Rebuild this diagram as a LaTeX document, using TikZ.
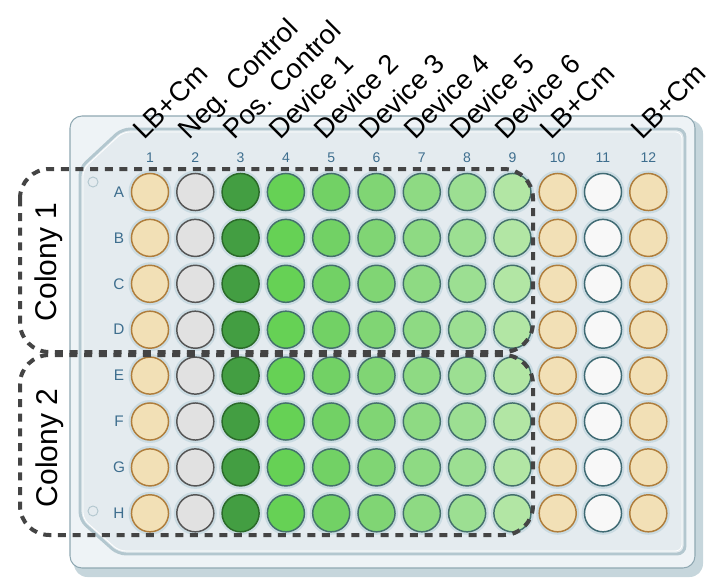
\documentclass[tikz,border=0pt]{standalone}
\usepackage{fontspec}
\setmainfont{Liberation Sans}
\usetikzlibrary{calc}
\definecolor{lbfill}{HTML}{F2E0B6}
\definecolor{lbdraw}{HTML}{AF7D3B}
\definecolor{negfill}{HTML}{E1E1E1}
\definecolor{negdraw}{HTML}{555555}
\definecolor{posfill}{HTML}{439E42}
\definecolor{posdraw}{HTML}{2B6A2A}
\definecolor{devA}{HTML}{66D155}
\definecolor{devB}{HTML}{72D165}
\definecolor{devC}{HTML}{80D574}
\definecolor{devD}{HTML}{8EDA83}
\definecolor{devE}{HTML}{9CDF92}
\definecolor{devF}{HTML}{B2E6A4}
\definecolor{devdraw}{HTML}{44706C}
\definecolor{blankfill}{HTML}{F8F8F8}
\definecolor{blankdraw}{HTML}{3F6A73}
\definecolor{halo}{HTML}{CADBE2}
\definecolor{platetop}{HTML}{EEF3F6}
\definecolor{plateside}{HTML}{C6D6DC}
\definecolor{plateedge}{HTML}{8FA8B2}
\definecolor{plateinner}{HTML}{E4EBEF}
\definecolor{platerim}{HTML}{B3C7CF}
\definecolor{labelblue}{HTML}{3E6E8E}
\definecolor{dashgray}{HTML}{444444}

\begin{document}
\begin{tikzpicture}[x=0.75pt,y=-0.75pt,
  well/.style={circle,minimum size=27.8pt,inner sep=0pt,line width=1.1pt},
  colnum/.style={text=labelblue,font=\fontsize{10.5}{12}\selectfont,inner sep=0pt},
  rowlab/.style={text=labelblue,font=\fontsize{11.5}{13}\selectfont,inner sep=0pt},
  header/.style={rotate=45,anchor=base west,inner sep=0pt,font=\fontsize{20.5}{24}\selectfont},
  colonybox/.style={draw=dashgray,line width=3pt,dash pattern=on 6pt off 5pt,rounded corners=22pt},
  colonylab/.style={rotate=90,inner sep=0pt,font=\fontsize{22.5}{26}\selectfont}]
  \useasboundingbox (0,0) rectangle (726,586);
  %PLATE
  \fill[plateside,rounded corners=10pt] (74,120) rectangle (703,577);
  \filldraw[fill=platetop,draw=plateedge,line width=0.8pt,rounded corners=9pt] (70,116) rectangle (695,568);
  \filldraw[fill=plateinner,draw=platerim,line width=2.2pt,rounded corners=6pt]
    (80,168) -- (122,129) -- (685,129) -- (685,554) -- (118,554) -- (80,520) -- cycle;
  \draw[white,line width=0.6pt,rounded corners=5pt]
    (83,169) -- (123,132) -- (682,132) -- (682,551) -- (119,551) -- (83,519) -- cycle;
  \draw[platerim,line width=0.7pt] (93,182) circle (5) (93,511) circle (5);
  %WELLS
  \foreach \c/\f/\d in {1/lbfill/lbdraw,2/negfill/negdraw,3/posfill/posdraw,4/devA/devdraw,
      5/devB/devdraw,6/devC/devdraw,7/devD/devdraw,8/devE/devdraw,9/devF/devdraw,
      10/lbfill/lbdraw,11/blankfill/blankdraw,12/lbfill/lbdraw}{
    \foreach \r [count=\i] in {A,B,C,D,E,F,G,H}{
      \fill[halo] ({150+(\c-1)*45.3},{192+(\i-1)*45.9}) circle (21.5);
      \node[well,fill=\f,draw=\d] (\r\c) at ({150+(\c-1)*45.3},{192+(\i-1)*45.9}) {};
    }
    \node[colnum] (n\c) at ({150+(\c-1)*45.3},158) {\c};
  }
  \foreach \r [count=\i] in {A,B,C,D,E,F,G,H}
    \node[rowlab] (l\r) at (119,{192+(\i-1)*45.9}) {\r};
  %HEADERS
  \foreach \c/\t in {1/LB+Cm,2/Neg. Control,3/Pos. Control,4/Device 1,5/Device 2,
      6/Device 3,7/Device 4,8/Device 5,9/Device 6,10/LB+Cm,12/LB+Cm}
    \node[header] (h\c) at ({150+(\c-1)*45.3-6},141) {\t};
  %COLONIES
  \draw[colonybox] (20,169) rectangle (533,352);
  \draw[colonybox] (20,355) rectangle (533,535);
  \node[colonylab] (c1) at (49,262) {Colony 1};
  \node[colonylab] (c2) at (50,448) {Colony 2};
\end{tikzpicture}
\end{document}
